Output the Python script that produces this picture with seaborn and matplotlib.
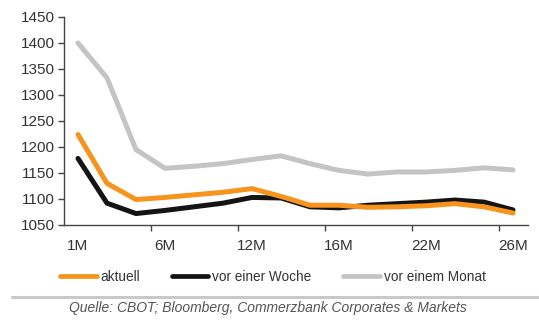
import numpy as np
import pandas as pd
import matplotlib
matplotlib.use("Agg")
import matplotlib.pyplot as plt
from matplotlib.lines import Line2D
import seaborn as sns

# Contract months on the forward curve (16 points, labelled every third)
months = ["1M", "2M", "4M", "6M", "8M", "10M", "12M", "13M",
          "14M", "16M", "18M", "20M", "22M", "24M", "25M", "26M"]
tick_labels = ["1M", "6M", "12M", "16M", "22M", "26M"]
tick_index = [0, 3, 6, 9, 12, 15]

aktuell = [1224, 1130, 1099, 1103, 1108, 1113, 1120, 1105,
           1088, 1088, 1084, 1085, 1087, 1091, 1085, 1073]
vor_einer_woche = [1178, 1092, 1072, 1078, 1085, 1092, 1103, 1102,
                   1085, 1083, 1088, 1091, 1094, 1098, 1094, 1079]
vor_einem_monat = [1400, 1333, 1195, 1159, 1163, 1168, 1176, 1183,
                   1168, 1155, 1148, 1152, 1152, 1155, 1160, 1156]

series_names = ["aktuell", "vor einer Woche", "vor einem Monat"]
series_colors = ["#F7941D", "#141414", "#C4C4C4"]

frames = []
for name, vals in zip(series_names, [aktuell, vor_einer_woche, vor_einem_monat]):
    frames.append(pd.DataFrame({"pos": np.arange(len(months)),
                                "Monat": months,
                                "Preis": vals,
                                "Serie": name}))
df = pd.concat(frames, ignore_index=True)

sns.set_theme(style="white")
plt.rcParams["font.family"] = ["Liberation Sans", "DejaVu Sans"]

fig = plt.figure(figsize=(5.39, 3.22), dpi=100)
ax = fig.add_axes([63.5 / 539, 1 - 225 / 322, 464 / 539, 208 / 322])

# draw in reverse so the current curve sits on top
sns.lineplot(data=df, x="pos", y="Preis", hue="Serie",
             hue_order=series_names[::-1], palette=series_colors[::-1],
             linewidth=3.6, ax=ax, legend=False, sort=False)

ax.set_xlim(-0.5, len(months) - 0.5)
ax.set_ylim(1050, 1450)
ax.set_yticks(np.arange(1050, 1451, 50))
ax.set_xticks(tick_index)
ax.set_xticklabels(tick_labels)
ax.set_xticks(np.arange(2.5, len(months) - 0.5, 3), minor=True)
ax.set_xlabel("")
ax.set_ylabel("")

for side in ["top", "right"]:
    ax.spines[side].set_visible(False)
for side in ["left", "bottom"]:
    ax.spines[side].set_color("#444444")
    ax.spines[side].set_linewidth(1.0)

ax.tick_params(axis="y", which="major", direction="out", length=4, width=1,
               color="#444444", labelsize=11, labelcolor="#333333", pad=2, left=True)
ax.tick_params(axis="x", which="major", length=0, labelsize=11,
               labelcolor="#333333", pad=10, bottom=True)
ax.tick_params(axis="x", which="minor", direction="out", length=4, width=1,
               color="#444444", bottom=True)

handles = [Line2D([0], [0], color=c, lw=3.4) for c in series_colors]
fig.legend(handles, series_names, loc="center", bbox_to_anchor=(0.506, 1 - 277 / 322),
           ncol=3, frameon=False, fontsize=9.8, handlelength=2.7,
           handletextpad=0.3, columnspacing=2.3, labelcolor="#333333")

fig.add_artist(Line2D([12 / 539, 1.0], [1 - 297 / 322] * 2, transform=fig.transFigure,
                      color="#C8C8C8", lw=2.2))
fig.text(268 / 539, 1 - 308 / 322,
         "Quelle: CBOT; Bloomberg, Commerzbank Corporates & Markets",
         ha="center", va="center", fontsize=10, style="italic", color="#555555")

fig.savefig("out.png", dpi=100)
